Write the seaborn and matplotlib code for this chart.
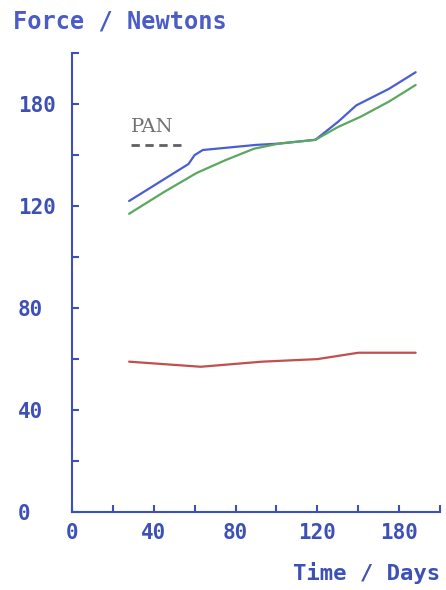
import numpy as np
import pandas as pd
import matplotlib
matplotlib.use("Agg")
import matplotlib.pyplot as plt
import seaborn as sns
from matplotlib.lines import Line2D

# ---- data ----
blue_days = [28, 57, 60, 64, 90, 101, 119, 130, 139, 155, 168]
blue_force = [122, 136.5, 140, 142, 144, 144.5, 146, 153, 159.5, 166, 172.5]
green_days = [28, 45, 61, 75, 89, 101, 119, 130, 141, 155, 168]
green_force = [117, 125.5, 133, 138, 142.5, 144.5, 146, 151, 155, 161, 167.5]
red_days = [28, 63, 93, 120, 140, 168]
red_force = [59, 57, 59, 60, 62.5, 62.5]

x_ticks = [0, 40, 80, 120, 160]
x_tick_labels = ["0", "40", "80", "120", "180"]
y_ticks = [0, 40, 80, 120, 160]
y_tick_labels = ["0", "40", "80", "120", "180"]
legend_label = "PAN"
x_title = "Time / Days"
y_title = "Force / Newtons"

series_names = ["blue", "green", "red"]
df = pd.concat([
    pd.DataFrame({"days": blue_days, "force": blue_force, "series": "blue"}),
    pd.DataFrame({"days": green_days, "force": green_force, "series": "green"}),
    pd.DataFrame({"days": red_days, "force": red_force, "series": "red"}),
])

palette = {"blue": "#4a5ed2", "green": "#5aa860", "red": "#c24e4e"}
axis_col = "#3d50b8"

sns.set_style("white")
fig = plt.figure(figsize=(4.46, 5.90), dpi=100)
ax = fig.add_axes([0.161, 0.132, 0.826, 0.778])

sns.lineplot(data=df, x="days", y="force", hue="series", palette=palette,
             hue_order=series_names, sort=False, estimator=None,
             linewidth=1.6, legend=False, ax=ax)

ax.set_xlim(0, 180)
ax.set_ylim(0, 180)
for s in ["top", "right"]:
    ax.spines[s].set_visible(False)
for s in ["left", "bottom"]:
    ax.spines[s].set_color(axis_col)
    ax.spines[s].set_linewidth(1.5)

mono = {"family": "DejaVu Sans Mono", "weight": "bold"}
ax.set_xticks(np.arange(0, 181, 20))
ax.set_yticks(np.arange(0, 181, 20))
ax.set_xticklabels([x_tick_labels[x_ticks.index(v)] if v in x_ticks else "" for v in range(0, 181, 20)],
                   fontdict=mono, fontsize=15, color=axis_col)
ax.set_yticklabels([y_tick_labels[y_ticks.index(v)] if v in y_ticks else "" for v in range(0, 181, 20)],
                   fontdict=mono, fontsize=15, color=axis_col, ha="left")
ax.tick_params(axis="both", direction="in", length=5, width=1.5, color=axis_col,
               bottom=True, left=True)
ax.tick_params(axis="y", pad=39)
ax.tick_params(axis="x", pad=8)

ax.set_xlabel("")
ax.set_ylabel("")
fig.text(0.987, 0.028, x_title, ha="right", va="center", color=axis_col,
         fontsize=16, **mono)
fig.text(0.03, 0.963, y_title, ha="left", va="center", color="#4a5cc8",
         fontsize=17, **mono)

# legend-like annotation
ax.text(0.16, 0.84, legend_label, transform=ax.transAxes, fontsize=14,
        family="DejaVu Serif", color="#707070", ha="left", va="center")
ax.add_line(Line2D([0.16, 0.30], [0.80, 0.80], transform=ax.transAxes,
                   color="#606060", linestyle=(0, (3, 2)), linewidth=2))

fig.savefig("out.png", dpi=100)
